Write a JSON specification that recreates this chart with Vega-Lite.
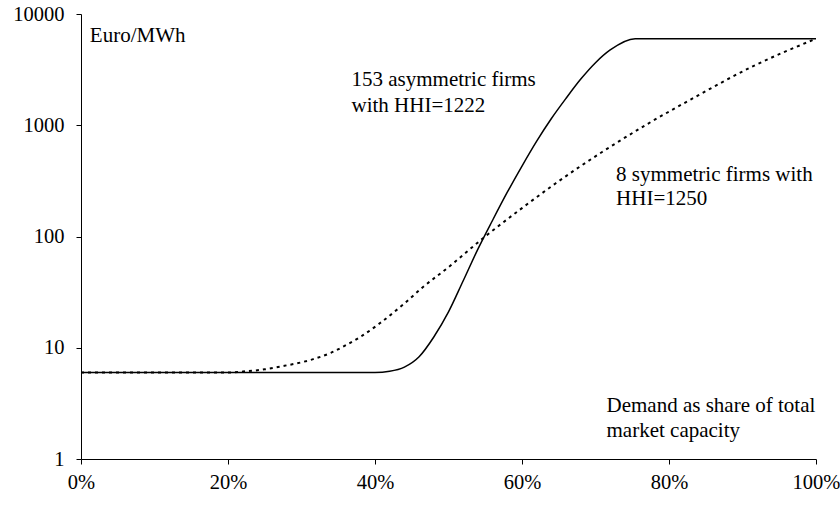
{
  "$schema": "https://vega.github.io/schema/vega-lite/v6.json",
  "width": 735,
  "height": 445,
  "autosize": {"type": "none"},
  "padding": {"left": 81, "top": 14, "right": 24, "bottom": 47},
  "background": "white",
  "config": {
    "view": {"stroke": null},
    "font": "'Liberation Serif', 'Times New Roman', 'DejaVu Serif', serif",
    "axis": {
      "grid": false,
      "domainColor": "black",
      "tickColor": "black",
      "labelColor": "black",
      "labelFont": "'Liberation Serif', 'Times New Roman', 'DejaVu Serif', serif",
      "labelFontSize": 20.5,
      "tickSize": 5,
      "title": null
    }
  },
  "datasets": {
    "curves": [
      {"series": "asym", "x": 0.0, "y": 6},
      {"series": "asym", "x": 0.40, "y": 6},
      {"series": "asym", "x": 0.42, "y": 6.15},
      {"series": "asym", "x": 0.44, "y": 6.7},
      {"series": "asym", "x": 0.46, "y": 8.3},
      {"series": "asym", "x": 0.48, "y": 12.5},
      {"series": "asym", "x": 0.50, "y": 21},
      {"series": "asym", "x": 0.52, "y": 40},
      {"series": "asym", "x": 0.54, "y": 77},
      {"series": "asym", "x": 0.56, "y": 140},
      {"series": "asym", "x": 0.58, "y": 250},
      {"series": "asym", "x": 0.60, "y": 430},
      {"series": "asym", "x": 0.62, "y": 720},
      {"series": "asym", "x": 0.64, "y": 1150},
      {"series": "asym", "x": 0.66, "y": 1750},
      {"series": "asym", "x": 0.68, "y": 2600},
      {"series": "asym", "x": 0.70, "y": 3650},
      {"series": "asym", "x": 0.72, "y": 4750},
      {"series": "asym", "x": 0.754, "y": 6000},
      {"series": "asym", "x": 1.0, "y": 6000},
      {"series": "sym", "x": 0.0, "y": 6},
      {"series": "sym", "x": 0.20, "y": 6},
      {"series": "sym", "x": 0.225, "y": 6.15},
      {"series": "sym", "x": 0.25, "y": 6.4},
      {"series": "sym", "x": 0.27, "y": 6.76},
      {"series": "sym", "x": 0.30, "y": 7.4},
      {"series": "sym", "x": 0.316, "y": 7.9},
      {"series": "sym", "x": 0.34, "y": 9.0},
      {"series": "sym", "x": 0.361, "y": 10.6},
      {"series": "sym", "x": 0.38, "y": 12.5},
      {"series": "sym", "x": 0.406, "y": 16.5},
      {"series": "sym", "x": 0.44, "y": 25},
      {"series": "sym", "x": 0.465, "y": 35},
      {"series": "sym", "x": 0.50, "y": 53},
      {"series": "sym", "x": 0.5466, "y": 96},
      {"series": "sym", "x": 0.60, "y": 180},
      {"series": "sym", "x": 0.646, "y": 301},
      {"series": "sym", "x": 0.709, "y": 575},
      {"series": "sym", "x": 0.77, "y": 1020},
      {"series": "sym", "x": 0.83, "y": 1710},
      {"series": "sym", "x": 0.913, "y": 3360},
      {"series": "sym", "x": 1.0, "y": 6000}
    ],
    "labels": [
      {"x": 0.012, "y": 5600, "text": "Euro/MWh"},
      {"x": 0.368, "y": 2254, "text": "153 asymmetric firms"},
      {"x": 0.368, "y": 1315, "text": "with HHI=1222"},
      {"x": 0.728, "y": 315, "text": "8 symmetric firms with"},
      {"x": 0.728, "y": 192, "text": "HHI=1250"},
      {"x": 0.715, "y": 2.645, "text": "Demand as share of total"},
      {"x": 0.715, "y": 1.577, "text": "market capacity"}
    ]
  },
  "layer": [
    {
      "data": {"name": "curves"},
      "transform": [{"filter": "datum.series === 'asym'"}],
      "mark": {"type": "line", "color": "black", "strokeWidth": 1.5, "interpolate": "monotone"},
      "encoding": {
        "x": {"field": "x", "type": "quantitative",
              "scale": {"domain": [0, 1], "nice": false, "zero": false},
              "axis": {"values": [0, 0.2, 0.4, 0.6, 0.8, 1.0], "format": ".0%", "labelPadding": 8, "labelFlush": false}},
        "y": {"field": "y", "type": "quantitative",
              "scale": {"type": "log", "domain": [1, 10000], "nice": false},
              "axis": {"values": [1, 10, 100, 1000, 10000], "format": "d", "labelPadding": 12}}
      }
    },
    {
      "data": {"name": "curves"},
      "transform": [{"filter": "datum.series === 'sym'"}],
      "mark": {"type": "line", "color": "black", "strokeWidth": 2, "strokeDash": [3, 4], "interpolate": "monotone"},
      "encoding": {
        "x": {"field": "x", "type": "quantitative"},
        "y": {"field": "y", "type": "quantitative"}
      }
    },
    {
      "data": {"name": "labels"},
      "mark": {"type": "text", "align": "left", "baseline": "alphabetic", "font": "'Liberation Serif', 'Times New Roman', 'DejaVu Serif', serif", "fontSize": 21, "color": "black"},
      "encoding": {
        "x": {"field": "x", "type": "quantitative"},
        "y": {"field": "y", "type": "quantitative"},
        "text": {"field": "text"}
      }
    }
  ]
}
